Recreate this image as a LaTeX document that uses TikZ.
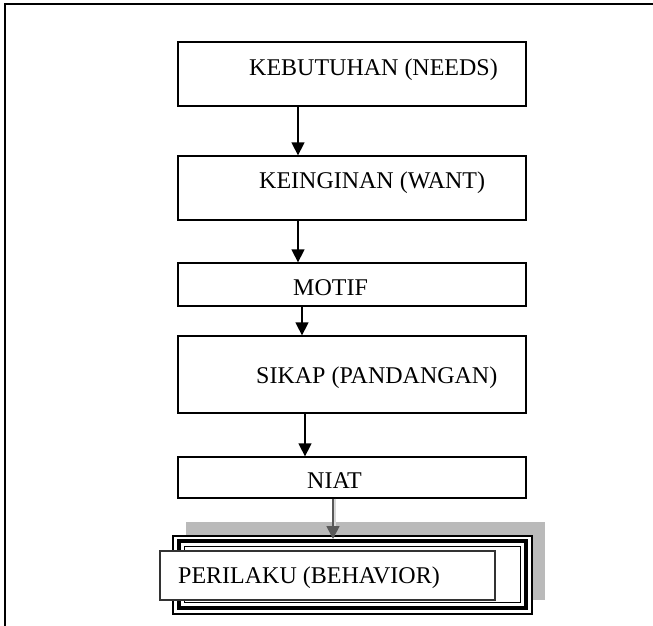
\documentclass[tikz,border=0pt]{standalone}
\usepackage{fontspec}
\setmainfont{Liberation Serif}
\usepackage{tikz}
\usetikzlibrary{arrows.meta}

\begin{document}
\begin{tikzpicture}[x=1pt,y=-1pt]
\tikzstyle{every node}+=[inner sep=0pt]
\tikzstyle{box}=[draw=black,line width=1.3pt,fill=white,minimum width=348pt]
\tikzstyle{label}=[anchor=base west,font=\fontsize{24}{28}\selectfont]
\tikzstyle{arr}=[black,line width=1.5pt,-{Triangle[width=13pt,length=13pt]}]
\useasboundingbox (0,0) rectangle (653,626);
\draw [black,line width=2pt] (5,626) -- (5,4.5) -- (653,4.5);
\node [box,minimum height=64pt] (needs) at (352,74) {};
\node [box,minimum height=64pt] (want) at (352,188) {};
\node [box,minimum height=43pt] (motif) at (352,284.5) {};
\node [box,minimum height=77pt] (sikap) at (352,374.5) {};
\node [box,minimum height=41pt] (niat) at (352,477.5) {};
\node [label] (needs-t) at (249,75) {KEBUTUHAN (NEEDS)};
\node [label] (want-t) at (259,188) {KEINGINAN (WANT)};
\node [label] (motif-t) at (293,295) {MOTIF};
\node [label] (sikap-t) at (256,383) {SIKAP (PANDANGAN)};
\node [label] (niat-t) at (307,488) {NIAT};
\fill [black!27] (186,522) rectangle (545,600);
\node [draw=black,line width=2pt,fill=white,minimum width=359pt,minimum height=78pt] (frame) at (352.5,575) {};
\draw [black,line width=4.5pt] (179,541) rectangle (526,608);
\draw [black,line width=1.2pt] (184.5,546.5) rectangle (520.5,602.5);
\node [draw=black!80,line width=1.2pt,fill=white,minimum width=335pt,minimum height=49pt] (behavior) at (327.5,575.5) {};
\node [label] (behavior-t) at (178,583) {PERILAKU (BEHAVIOR)};
\draw [arr] ([xshift=-54pt]needs.south) -- ([xshift=-54pt]want.north);
\draw [arr] ([xshift=-54pt]want.south) -- ([xshift=-54pt]motif.north);
\draw [arr] ([xshift=-50pt]motif.south) -- ([xshift=-50pt]sikap.north);
\draw [arr] ([xshift=-47pt]sikap.south) -- ([xshift=-47pt]niat.north);
\draw [black!15,line width=4pt] ([xshift=-18pt]niat.south) -- ([xshift=-18.5pt]frame.north);
\draw [arr,black!65] ([xshift=-19pt]niat.south) -- ([xshift=-19.5pt,yshift=-4pt]frame.north);
\end{tikzpicture}
\end{document}
